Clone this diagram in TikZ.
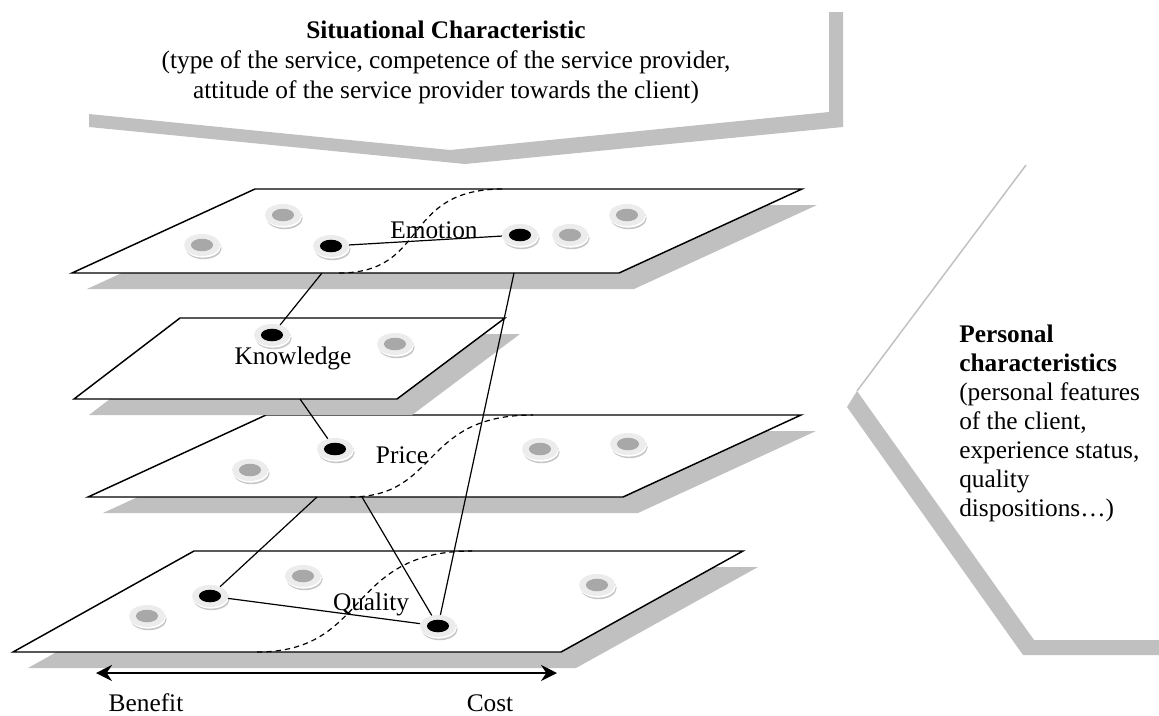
\documentclass[tikz,border=0pt]{standalone}
\usepackage{fontspec}
\setmainfont{Liberation Serif}
\usetikzlibrary{arrows.meta,shapes.geometric}
\definecolor{bandgray}{HTML}{C0C0C0}
\definecolor{ringc}{HTML}{ECECEC}
\definecolor{ringsh}{HTML}{C6C6C6}
\definecolor{holegray}{HTML}{A8A8A8}
\begin{document}
\begin{tikzpicture}[x=0.75pt,y=-0.75pt,
  plane/.style={fill=white,draw=black,line width=1.1pt,line join=miter},
  planeshadow/.style={fill=bandgray,draw=none},
  chevron/.style={fill=bandgray,draw=none},
  thinband/.style={draw=bandgray,line width=1.1pt},
  conn/.style={draw=black,line width=0.9pt},
  sep/.style={draw=black,line width=0.9pt,dash pattern=on 4pt off 3pt},
  lbl/.style={font=\fontsize{19}{22.5}\selectfont,inner sep=0pt},
  donut/.style={ellipse,inner sep=0pt,minimum width=27pt,minimum height=16.5pt,
    fill=ringc,draw=none,
    preaction={fill=ringsh,transform canvas={shift={(1.2pt,-2.4pt)}}},
    preaction={fill=white,transform canvas={shift={(0.6pt,-1.2pt)}}},
    path picture={\fill[#1] (path picture bounding box.center) ellipse [x radius=8.3pt,y radius=4.7pt];}},
  arrowline/.style={line width=1.8pt,{Stealth[length=12pt,width=12pt,inset=4pt]}-{Stealth[length=12pt,width=12pt,inset=4pt]}}
]
\useasboundingbox (0,0) rectangle (1159,715);

% ---- Situational chevron (top)
\fill[chevron] (89,127) -- (465,164) -- (843,127) -- (843,12) -- (829,12) -- (829,112) -- (450,150) -- (89,114) -- cycle;
\node[lbl,align=center] (sit) at (446,62)
  {\textbf{Situational Characteristic}\\(type of the service, competence of the service provider,\\attitude of the service provider towards the client)};

% ---- Personal chevron (right)
\draw[thinband] (1026,165) -- (857,391);
\fill[chevron] (847,407) -- (857,391) -- (1034,640) -- (1159,640) -- (1159,655) -- (1023,655) -- cycle;
\node[lbl,align=left,anchor=north west,font=\fontsize{19}{21.75}\selectfont] (pers) at (959,325)
  {\textbf{Personal}\\\textbf{characteristics}\\(personal features\\of the client,\\experience status,\\quality\\dispositions…)};

% ---- Quality plane
\fill[planeshadow] (28,668) -- (209,567) -- (758,567) -- (576,668) -- cycle;
\path[plane] (13,652) -- (194,551) -- (743,551) -- (561,652) -- cycle;
\draw[sep] (257,652) .. controls (370,652) and (345,551) .. (472,551);
\node[lbl] (qlab) at (371,604) {Quality};
\node[donut=holegray] (q1) at (147,616) {};
\node[donut=black] (qL) at (210,596) {};
\node[donut=holegray] (q3) at (303,576) {};
\node[donut=black] (qR) at (438,626) {};
\node[donut=holegray] (q5) at (597,585) {};

% ---- Price plane
\fill[planeshadow] (103,513) -- (281,431) -- (816,431) -- (638,513) -- cycle;
\path[plane] (88,497) -- (266,415) -- (801,415) -- (623,497) -- cycle;
\draw[sep] (350,497) .. controls (440,497) and (420,415) .. (533,415);
\node[lbl] (plab) at (402,455) {Price};
\node[donut=holegray] (p1) at (250,470) {};
\node[donut=black] (pB) at (335,449) {};
\node[donut=holegray] (p3) at (540,449) {};
\node[donut=holegray] (p4) at (628,444) {};

% ---- Knowledge plane
\fill[planeshadow] (89,415) -- (195,334) -- (520,334) -- (412,415) -- cycle;
\path[plane] (74,399) -- (180,318) -- (505,318) -- (397,399) -- cycle;
\node[lbl] (klab) at (293,358) {Knowledge};
\node[donut=black] (kB) at (272,335) {};
\node[donut=holegray] (k2) at (395,344) {};

% ---- Emotion plane
\fill[planeshadow] (87,289) -- (270,205) -- (817,205) -- (634,289) -- cycle;
\path[plane] (72,273) -- (255,189) -- (802,189) -- (619,273) -- cycle;
\draw[sep] (339,273) .. controls (430,273) and (400,189) .. (503,189);
\node[lbl] (elab) at (434,230) {Emotion};
\node[donut=holegray] (e1) at (202,245) {};
\node[donut=holegray] (e2) at (283,215) {};
\node[donut=black] (eL) at (331,246) {};
\node[donut=black] (eR) at (520,235) {};
\node[donut=holegray] (e5) at (570,235) {};
\node[donut=holegray] (e6) at (627,215) {};

% ---- connectors
\coordinate (eEdgeA) at (322,273);
\coordinate (eEdgeB) at (514,273);
\coordinate (kEdge) at (300,399);
\coordinate (pEdgeA) at (317,497);
\coordinate (pEdgeB) at (362,497);
\draw[conn] (eL) -- (eR);
\draw[conn] (kB) -- (eEdgeA);
\draw[conn] (kEdge) -- (pB);
\draw[conn] (qL) -- (pEdgeA);
\draw[conn] (qR) -- (pEdgeB);
\draw[conn] (qR) -- (eEdgeB);
\draw[conn] (qL) -- (qR);

% ---- benefit / cost axis
\coordinate (arrL) at (96,673);
\coordinate (arrR) at (557,673);
\draw[arrowline] (arrL) -- (arrR);
\node[lbl,anchor=base,text depth=0pt] (ben) at (146,711) {Benefit};
\node[lbl,anchor=base,text depth=0pt] (cost) at (490,711) {Cost};
\end{tikzpicture}
\end{document}
